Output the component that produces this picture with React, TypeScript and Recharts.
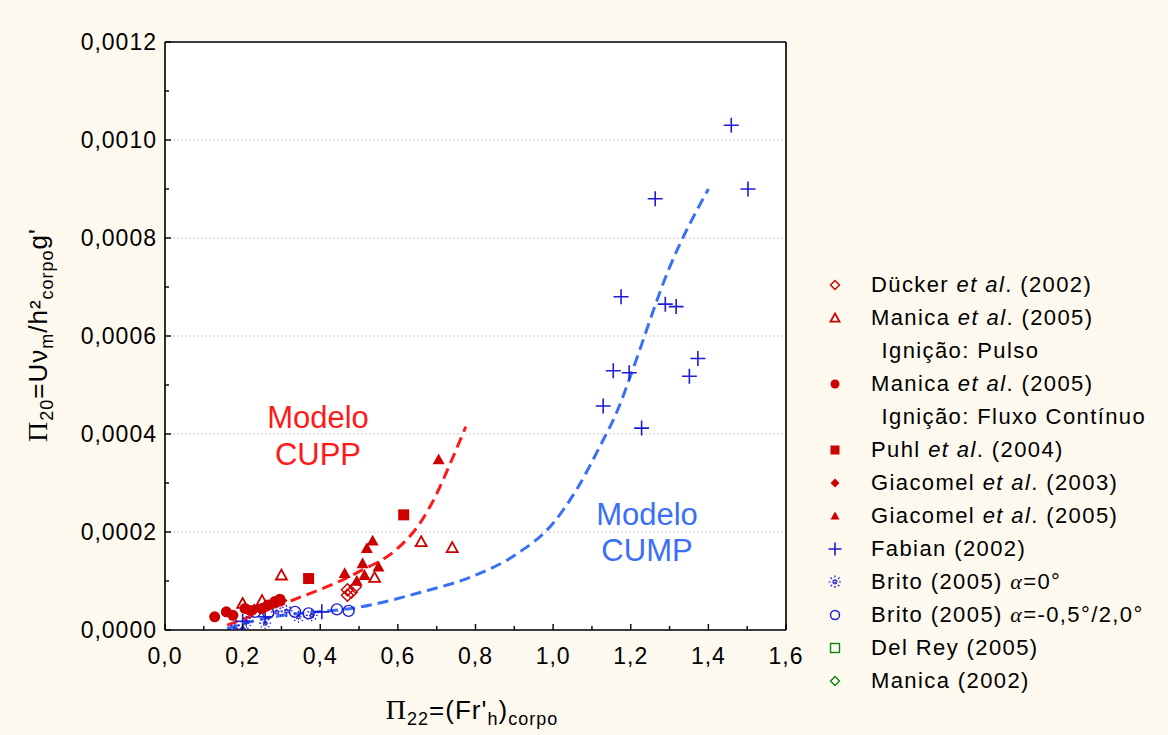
import React from 'react'
import { ComposedChart, Scatter, Line, XAxis, YAxis, CartesianGrid } from 'recharts'

type Pt = { x: number; y: number }

// axis ticks
const xMajor = [0, 0.2, 0.4, 0.6, 0.8, 1.0, 1.2, 1.4, 1.6]
const xAll = [0, 0.1, 0.2, 0.3, 0.4, 0.5, 0.6, 0.7, 0.8, 0.9, 1.0, 1.1, 1.2, 1.3, 1.4, 1.5, 1.6]
const yMajor = [0, 0.0002, 0.0004, 0.0006, 0.0008, 0.001, 0.0012]
const yAll = [0, 0.0001, 0.0002, 0.0003, 0.0004, 0.0005, 0.0006, 0.0007, 0.0008, 0.0009, 0.001, 0.0011, 0.0012]

// series
const duckerData: Pt[] = [
  { x: 0.47, y: 0.000071 }, { x: 0.47, y: 0.000082 }, { x: 0.48, y: 0.000077 }, { x: 0.49, y: 0.000088 },
]
const manicaPulsoData: Pt[] = [
  { x: 0.2, y: 0.000054 }, { x: 0.25, y: 0.00006 }, { x: 0.3, y: 0.000112 },
  { x: 0.54, y: 0.000107 }, { x: 0.66, y: 0.00018 }, { x: 0.74, y: 0.000168 },
]
const manicaFluxoData: Pt[] = [
  { x: 0.128, y: 0.000027 }, { x: 0.158, y: 0.000037 }, { x: 0.175, y: 0.00003 },
  { x: 0.206, y: 0.000044 }, { x: 0.22, y: 0.00004 }, { x: 0.249, y: 0.000044 },
  { x: 0.266, y: 0.000051 }, { x: 0.283, y: 0.000058 }, { x: 0.296, y: 0.000063 },
]
const puhlData: Pt[] = [{ x: 0.37, y: 0.000105 }, { x: 0.615, y: 0.000235 }]
const giacomel2003Data: Pt[] = [
  { x: 0.23, y: 0.000042 }, { x: 0.26, y: 0.00005 }, { x: 0.28, y: 0.000055 }, { x: 0.3, y: 0.00006 },
]
const giacomel2005Data: Pt[] = [
  { x: 0.463, y: 0.000116 }, { x: 0.494, y: 0.0001 }, { x: 0.509, y: 0.000136 },
  { x: 0.514, y: 0.000112 }, { x: 0.52, y: 0.000167 }, { x: 0.535, y: 0.000182 },
  { x: 0.55, y: 0.000129 }, { x: 0.705, y: 0.000348 },
]
const fabianData: Pt[] = [
  { x: 1.459, y: 0.00103 }, { x: 1.502, y: 0.0009 }, { x: 1.263, y: 0.00088 },
  { x: 1.175, y: 0.00068 }, { x: 1.289, y: 0.000665 }, { x: 1.317, y: 0.00066 },
  { x: 1.373, y: 0.000554 }, { x: 1.351, y: 0.000518 }, { x: 1.155, y: 0.000529 },
  { x: 1.196, y: 0.000525 }, { x: 1.129, y: 0.000457 }, { x: 1.228, y: 0.000412 },
  { x: 0.2, y: 0.000018 }, { x: 0.258, y: 0.000027 }, { x: 0.404, y: 0.000037 },
]
const brito0Data: Pt[] = [
  { x: 0.18, y: 0.000002 }, { x: 0.2, y: 0.000003 }, { x: 0.21, y: 0.000017 },
  { x: 0.258, y: 0.000014 }, { x: 0.288, y: 0.000037 }, { x: 0.313, y: 0.000039 },
  { x: 0.344, y: 0.000027 }, { x: 0.378, y: 0.00003 },
]
const brito05Data: Pt[] = [
  { x: 0.232, y: 0.000037 }, { x: 0.266, y: 0.000035 }, { x: 0.335, y: 0.000037 },
  { x: 0.37, y: 0.000034 }, { x: 0.443, y: 0.000042 }, { x: 0.473, y: 0.000039 },
]

// model curves
const cuppCurve: Pt[] = [
  { x: 0.16, y: 0.00001 }, { x: 0.32, y: 0.000058 }, { x: 0.5, y: 0.000119 },
  { x: 0.6, y: 0.000167 }, { x: 0.657, y: 0.000218 }, { x: 0.7, y: 0.000278 },
  { x: 0.735, y: 0.00034 }, { x: 0.775, y: 0.000415 },
]
const cumpCurve: Pt[] = [
  { x: 0.16, y: 0.000003 }, { x: 0.27, y: 0.000026 }, { x: 0.39, y: 0.000037 },
  { x: 0.48, y: 0.000044 }, { x: 0.65, y: 0.000075 }, { x: 0.8, y: 0.000112 },
  { x: 0.91, y: 0.000157 }, { x: 1.0, y: 0.000218 }, { x: 1.06, y: 0.000286 },
  { x: 1.12, y: 0.000374 }, { x: 1.17, y: 0.000456 }, { x: 1.2, y: 0.00052 },
  { x: 1.3, y: 0.00074 }, { x: 1.4, y: 0.0009 },
]

const RED = '#cc0000'
const BLUE = '#1c1cd4'
const GREEN = '#108010'
const FONT = '"Liberation Sans", Arial, sans-serif'

type Kind = 'diamondOpen' | 'triOpen' | 'circleFill' | 'squareFill' | 'diamondFill' | 'triFill'
  | 'plus' | 'asterisk' | 'circleOpen' | 'squareOpen'

function Marker({ kind, cx, cy, s, color }: { kind: Kind; cx: number; cy: number; s: number; color: string }) {
  const h = s / 2
  const sw = 1.4
  switch (kind) {
    case 'circleFill':
      return <circle cx={cx} cy={cy} r={h} fill={color} />
    case 'circleOpen':
      return <circle cx={cx} cy={cy} r={h} fill="none" stroke={color} strokeWidth={sw} />
    case 'squareFill':
      return <rect x={cx - h} y={cy - h} width={s} height={s} fill={color} />
    case 'squareOpen':
      return <rect x={cx - h} y={cy - h} width={s} height={s} fill="none" stroke={color} strokeWidth={sw} />
    case 'diamondFill':
    case 'diamondOpen': {
      const pts = `${cx},${cy - h} ${cx + h},${cy} ${cx},${cy + h} ${cx - h},${cy}`
      return kind === 'diamondFill'
        ? <polygon points={pts} fill={color} />
        : <polygon points={pts} fill="none" stroke={color} strokeWidth={sw} />
    }
    case 'triFill':
    case 'triOpen': {
      const pts = `${cx},${cy - h} ${cx + h},${cy + h * 0.8} ${cx - h},${cy + h * 0.8}`
      return kind === 'triFill'
        ? <polygon points={pts} fill={color} />
        : <polygon points={pts} fill="none" stroke={color} strokeWidth={sw + 0.4} />
    }
    case 'plus':
      return <path d={`M${cx - h},${cy}H${cx + h}M${cx},${cy - h}V${cy + h}`} stroke={color} strokeWidth={1.6} />
    case 'asterisk': {
      const d = h * 0.7
      return (
        <g stroke={color} strokeWidth={1.2} strokeDasharray="2 1.5">
          <path d={`M${cx - h},${cy}H${cx + h}M${cx},${cy - h}V${cy + h}`} />
          <path d={`M${cx - d},${cy - d}L${cx + d},${cy + d}M${cx + d},${cy - d}L${cx - d},${cy + d}`} />
        </g>
      )
    }
  }
  return null
}

const shape = (kind: Kind, color: string, s: number) => (p: any) =>
  <Marker kind={kind} color={color} s={s} cx={p.cx} cy={p.cy} />

const isMajorX = (v: number) => Math.round(v * 10) % 2 === 0
const isMajorY = (v: number) => Math.round(v * 10000) % 2 === 0
const textProps = { fontSize: 23, fill: '#000', fontFamily: FONT, letterSpacing: 1 }
const TK = { stroke: '#000', strokeWidth: 1.4 }

// custom ticks: inward tick marks + labels (tickSize 0, so x/y sit tickMargin away from the axis)
const BottomTick = (p: any) => {
  const v = p.payload.value
  const ay = p.y - 18
  const major = isMajorX(v)
  return (
    <g>
      <line x1={p.x} x2={p.x} y1={ay} y2={ay - (major ? 6 : 4)} {...TK} />
      {major && <text x={p.x} y={p.y} dy="0.71em" textAnchor="middle" {...textProps}>{v.toFixed(1).replace('.', ',')}</text>}
    </g>
  )
}
const LeftTick = (p: any) => {
  const v = p.payload.value
  const ax = p.x + 8
  const major = isMajorY(v)
  return (
    <g>
      <line x1={ax} x2={ax + (major ? 6 : 4)} y1={p.y} y2={p.y} {...TK} />
      {major && <text x={p.x} y={p.y} dy="0.355em" textAnchor="end" {...textProps}>{v.toFixed(4).replace('.', ',')}</text>}
    </g>
  )
}
const TopTick = (p: any) => {
  const major = isMajorX(p.payload.value)
  return <line x1={p.x} x2={p.x} y1={p.y} y2={p.y + (major ? 6 : 4)} {...TK} />
}
const RightTick = (p: any) => {
  const major = isMajorY(p.payload.value)
  return <line x1={p.x} x2={p.x - (major ? 6 : 4)} y1={p.y} y2={p.y} {...TK} />
}

const etal = <i>et al</i>
const alpha = <i style={{ fontFamily: '"Liberation Serif", serif' }}>α</i>

const legendRows: { kind?: Kind; color?: string; label: React.ReactNode }[] = [
  { kind: 'diamondOpen', color: RED, label: <>Dücker {etal}. (2002)</> },
  { kind: 'triOpen', color: RED, label: <>Manica {etal}. (2005)</> },
  { label: <>&nbsp;Ignição: Pulso</> },
  { kind: 'circleFill', color: RED, label: <>Manica {etal}. (2005)</> },
  { label: <>&nbsp;Ignição: Fluxo Contínuo</> },
  { kind: 'squareFill', color: RED, label: <>Puhl {etal}. (2004)</> },
  { kind: 'diamondFill', color: RED, label: <>Giacomel {etal}. (2003)</> },
  { kind: 'triFill', color: RED, label: <>Giacomel {etal}. (2005)</> },
  { kind: 'plus', color: BLUE, label: <>Fabian (2002)</> },
  { kind: 'asterisk', color: BLUE, label: <>Brito (2005) {alpha}=0°</> },
  { kind: 'circleOpen', color: BLUE, label: <>Brito (2005) {alpha}=-0,5°/2,0°</> },
  { kind: 'squareOpen', color: GREEN, label: <>Del Rey (2005)</> },
  { kind: 'diamondOpen', color: GREEN, label: <>Manica (2002)</> },
]

const axisLine = { stroke: '#000', strokeWidth: 1.6 }
const sub = { fontSize: 18 }

export default function App() {
  return (
    <div style={{ position: 'absolute', left: 0, top: 0, width: 1168, height: 735, background: '#fdf9ee', fontFamily: FONT }}>
      <ComposedChart width={1168} height={735} margin={{ top: 41, right: 381, bottom: 0, left: 0 }}>
        <XAxis xAxisId="xg" type="number" domain={[0, 1.6]} ticks={xMajor} hide allowDataOverflow />
        <YAxis yAxisId="yg" type="number" domain={[0, 0.0012]} ticks={yMajor} hide allowDataOverflow />
        <CartesianGrid xAxisId="xg" yAxisId="yg" fill="#fff" stroke="#c4c4c4" strokeDasharray="2 2" />
        <XAxis
          xAxisId="x" dataKey="x" type="number" domain={[0, 1.6]} ticks={xAll} interval={0}
          height={105} tickSize={0} tickMargin={18} tick={BottomTick} tickLine={false}
          axisLine={axisLine} allowDataOverflow
        />
        <XAxis
          xAxisId="xt" orientation="top" type="number" domain={[0, 1.6]} ticks={xAll} interval={0}
          height={1} tickSize={0} tickMargin={0} tick={TopTick} tickLine={false} axisLine={axisLine}
        />
        <YAxis
          yAxisId="y" dataKey="y" type="number" domain={[0, 0.0012]} ticks={yAll} interval={0}
          width={165} tickSize={0} tickMargin={8} tick={LeftTick} tickLine={false}
          axisLine={axisLine} allowDataOverflow
        />
        <YAxis
          yAxisId="yr" orientation="right" type="number" domain={[0, 0.0012]} ticks={yAll} interval={0}
          width={1} tickSize={0} tickMargin={0} tick={RightTick} tickLine={false} axisLine={axisLine}
        />

        <Line xAxisId="x" yAxisId="y" data={cuppCurve} dataKey="y" type="monotone" stroke="#ff1a1a"
          strokeWidth={3} strokeDasharray="11 6" dot={false} isAnimationActive={false} />
        <Line xAxisId="x" yAxisId="y" data={cumpCurve} dataKey="y" type="monotone" stroke="#3b6ff5"
          strokeWidth={3} strokeDasharray="11 6" dot={false} isAnimationActive={false} />

        <Scatter xAxisId="x" yAxisId="y" data={brito05Data} shape={shape('circleOpen', BLUE, 11)} isAnimationActive={false} />
        <Scatter xAxisId="x" yAxisId="y" data={brito0Data} shape={shape('asterisk', BLUE, 12)} isAnimationActive={false} />
        <Scatter xAxisId="x" yAxisId="y" data={fabianData} shape={shape('plus', BLUE, 15)} isAnimationActive={false} />
        <Scatter xAxisId="x" yAxisId="y" data={duckerData} shape={shape('diamondOpen', RED, 12)} isAnimationActive={false} />
        <Scatter xAxisId="x" yAxisId="y" data={manicaPulsoData} shape={shape('triOpen', RED, 11)} isAnimationActive={false} />
        <Scatter xAxisId="x" yAxisId="y" data={giacomel2003Data} shape={shape('diamondFill', RED, 12)} isAnimationActive={false} />
        <Scatter xAxisId="x" yAxisId="y" data={manicaFluxoData} shape={shape('circleFill', RED, 11)} isAnimationActive={false} />
        <Scatter xAxisId="x" yAxisId="y" data={puhlData} shape={shape('squareFill', RED, 11)} isAnimationActive={false} />
        <Scatter xAxisId="x" yAxisId="y" data={giacomel2005Data} shape={shape('triFill', RED, 12)} isAnimationActive={false} />
      </ComposedChart>

      {/* model annotations */}
      <div style={{ position: 'absolute', left: 218, top: 399, width: 200, textAlign: 'center', color: '#ff1a1a', fontSize: 31, lineHeight: '37px' }}>
        Modelo<br />CUPP
      </div>
      <div style={{ position: 'absolute', left: 547, top: 497, width: 200, textAlign: 'center', color: '#3b6ff5', fontSize: 31, lineHeight: '36px' }}>
        Modelo<br />CUMP
      </div>

      {/* axis titles */}
      <div style={{
        position: 'absolute', left: 40, top: 335, transform: 'translate(-50%, -50%) rotate(-90deg)',
        whiteSpace: 'nowrap', fontSize: 26, letterSpacing: 1, color: '#000',
      }}>
        <span style={{ fontFamily: '"Liberation Serif", serif', fontSize: 28 }}>Π</span>
        <sub style={sub}>20</sub>=Uν<sub style={sub}>m</sub>/h²<sub style={sub}>corpo</sub>g'
      </div>
      <div style={{
        position: 'absolute', left: 472, top: 712, transform: 'translate(-50%, -50%)',
        whiteSpace: 'nowrap', fontSize: 26, letterSpacing: 1, color: '#000',
      }}>
        <span style={{ fontFamily: '"Liberation Serif", serif', fontSize: 28 }}>Π</span>
        <sub style={sub}>22</sub>=(Fr'<sub style={sub}>h</sub>)<sub style={sub}>corpo</sub>
      </div>

      {/* legend */}
      {legendRows.map((r, i) => (
        <div key={i} style={{
          position: 'absolute', left: 820, top: 284 + 33 * i - 16, height: 33, display: 'flex',
          alignItems: 'center', fontSize: 22, letterSpacing: 1.4, color: '#000', whiteSpace: 'nowrap',
        }}>
          <svg width={30} height={20} style={{ marginRight: 21 }}>
            {r.kind && <Marker kind={r.kind} color={r.color!} s={r.kind === 'plus' || r.kind === 'asterisk' ? 13 : 9} cx={15} cy={10} />}
          </svg>
          <span style={{ marginLeft: r.kind ? 0 : 3 }}>{r.label}</span>
        </div>
      ))}
    </div>
  )
}
